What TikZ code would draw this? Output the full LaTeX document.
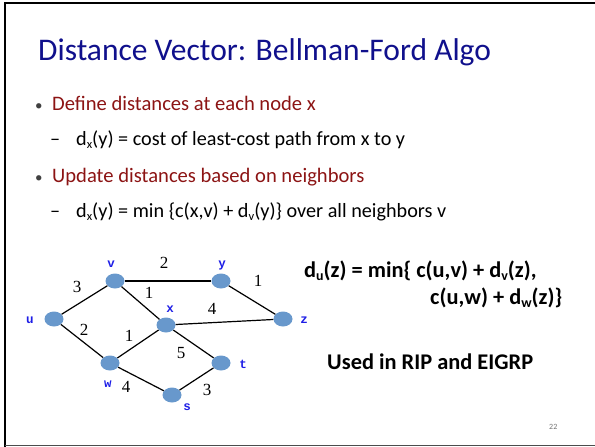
\documentclass[tikz,border=0pt]{standalone}
\usepackage{fontspec}
\setmainfont{Carlito}
\newfontfamily\serifnum{Liberation Serif}
\newfontfamily\monolab{Liberation Mono}
\definecolor{titleblue}{RGB}{16,16,140}
\definecolor{bulletred}{RGB}{140,20,20}
\definecolor{nodefill}{RGB}{104,152,204}
\definecolor{labblue}{RGB}{30,30,230}
\newcommand{\lowsub}[1]{\raisebox{-0.35ex}{\scalebox{0.62}{#1}}}
\usetikzlibrary{shapes.geometric}
\tikzset{
  gnode/.style={ellipse, fill=nodefill, minimum width=19pt, minimum height=15pt, inner sep=0pt},
  nlab/.style={font=\monolab\bfseries\fontsize{12.5}{12.5}\selectfont, text=labblue, inner sep=0pt},
  elab/.style={font=\serifnum\fontsize{17}{17}\selectfont, inner sep=0pt},
  edge/.style={draw=black, line width=1.2pt},
  txt/.style={anchor=base west, inner sep=0pt},
  bul/.style={anchor=base west, inner sep=0pt, text=black!75, font=\fontsize{15}{15}\selectfont},
  subtxt/.style={anchor=base west, inner sep=0pt, font=\fontsize{20.2}{20.2}\selectfont},
  redtxt/.style={anchor=base west, inner sep=0pt, text=bulletred, font=\fontsize{20.6}{20.6}\selectfont},
  rtxt/.style={anchor=base west, inner sep=0pt, font=\bfseries\fontsize{22.4}{22.4}\selectfont},
}
\begin{document}
\begin{tikzpicture}[x=1pt,y=-1pt]
\useasboundingbox (0,0) rectangle (595,447);
% frame
\draw[line width=2pt] (5,447) -- (5,3) -- (595,3);
\draw[line width=0.8pt, black!70] (5,445) -- (595,445);
% title
\node[txt, text=titleblue, font=\fontsize{31.5}{31.5}\selectfont] (title) at (38,60) {Distance Vector: Bellman-Ford Algo};
% bullets
\node[bul] (b1d) at (35,110.5) {•};
\node[redtxt] (b1) at (52,110.5) {Define distances at each node x};
\node[subtxt] (s1d) at (50,145) {–};
\node[subtxt] (s1) at (76,145) {d\lowsub{x}(y) = cost of least-cost path from x to y};
\node[bul] (b2d) at (35,182.5) {•};
\node[redtxt] (b2) at (52,182.5) {Update distances based on neighbors};
\node[subtxt] (s2d) at (50,217) {–};
\node[subtxt] (s2) at (76,217) {d\lowsub{x}(y) = min \{c(x,v) + d\lowsub{v}(y)\} over all neighbors v};
% graph nodes
\node[gnode] (u) at (54,319) {};
\node[gnode] (v) at (115,281) {};
\node[gnode] (y) at (221,281) {};
\node[gnode] (x) at (166,325) {};
\node[gnode] (z) at (283,319) {};
\node[gnode] (w) at (110,363) {};
\node[gnode] (t) at (221,363) {};
\node[gnode] (s) at (172,395) {};
% edges
\draw[edge] (u) -- (v);
\draw[edge] (u) -- (w);
\draw[edge] (v) -- (y);
\draw[edge] (v) -- (x);
\draw[edge] (y) -- (z);
\draw[edge] (x) -- (z);
\draw[edge] (w) -- (x);
\draw[edge] (x) -- (t);
\draw[edge] (w) -- (s);
\draw[edge] (s) -- (t);
% node labels
\node[nlab] (lu) at (30,320) {u};
\node[nlab] (lv) at (111,264) {v};
\node[nlab] (ly) at (222,265) {y};
\node[nlab] (lx) at (170,309) {x};
\node[nlab] (lz) at (304,320) {z};
\node[nlab] (lw) at (108,384) {w};
\node[nlab] (lt) at (243,364) {t};
\node[nlab] (ls) at (187,407) {s};
% edge labels
\node[elab] (e1) at (77,287) {3};
\node[elab] (e2) at (164,263) {2};
\node[elab] (e3) at (149,293) {1};
\node[elab] (e4) at (258,281) {1};
\node[elab] (e5) at (212,309) {4};
\node[elab] (e6) at (84,330) {2};
\node[elab] (e7) at (129,336) {1};
\node[elab] (e8) at (181,353) {5};
\node[elab] (e9) at (126,387) {4};
\node[elab] (e10) at (207,390) {3};
% right text
\node[rtxt] (f1) at (304,277) {d\lowsub{u}(z) = min\{ c(u,v) + d\lowsub{v}(z),};
\node[rtxt] (f2) at (430,304) {c(u,w) + d\lowsub{w}(z)\}};
\node[rtxt] (used) at (327,369) {Used in RIP and EIGRP};
\node[txt, text=black!55, font=\fontsize{8}{8}\selectfont] (pg) at (549,429) {22};
\end{tikzpicture}
\end{document}
